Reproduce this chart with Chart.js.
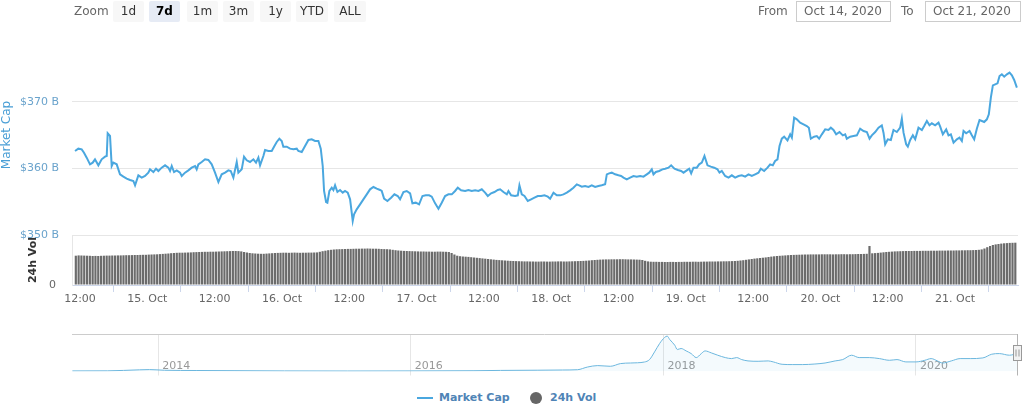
<!DOCTYPE html>
<html>
<head>
<meta charset="utf-8">
<script src="https://cdn.jsdelivr.net/npm/chart.js@4.4.0/dist/chart.umd.min.js"></script>
<style>
body { margin:0; background:#fff; font-family:"DejaVu Sans", sans-serif; }
#wrap { position:relative; width:1026px; height:411px; overflow:hidden; }
canvas { position:absolute; left:0; }
#main { top:0; }
#nav { top:325px; }
.lbl { position:absolute; top:1px; height:21px; line-height:21px; font-size:12px; color:#666; }
.btn { position:absolute; top:1px; height:21px; line-height:21px; font-size:12px; color:#333; background:#f7f7f7; text-align:center; border-radius:2px; }
.btn.on { background:#e6ebf5; font-weight:bold; color:#000; }
.inp { position:absolute; top:1px; height:19px; line-height:19px; border:1px solid #cccccc; font-size:12px; color:#666; padding-left:7px; }
.leg { position:absolute; top:391px; line-height:14px; font-size:11px; font-weight:bold; color:#4f84b6; }
</style>
</head>
<body>
<div id="wrap">
  <canvas id="main" width="1026" height="318"></canvas>
  <canvas id="nav" width="1026" height="57"></canvas>

  <div class="lbl" style="left:74px">Zoom</div>
  <div class="btn" style="left:113px;width:31px">1d</div>
  <div class="btn on" style="left:149px;width:31px">7d</div>
  <div class="btn" style="left:187px;width:31px">1m</div>
  <div class="btn" style="left:223px;width:31px">3m</div>
  <div class="btn" style="left:260px;width:31px">1y</div>
  <div class="btn" style="left:296px;width:32px">YTD</div>
  <div class="btn" style="left:334px;width:32px">ALL</div>

  <div class="lbl" style="left:758px">From</div>
  <div class="inp" style="left:796px;width:86px">Oct 14, 2020</div>
  <div class="lbl" style="left:901px">To</div>
  <div class="inp" style="left:925px;width:87px">Oct 21, 2020</div>

  <div style="position:absolute;left:417px;top:397px;width:16px;height:2px;background:#4aa7df"></div>
  <div class="leg" style="left:439px">Market Cap</div>
  <div style="position:absolute;left:530px;top:392px;width:12px;height:12px;border-radius:50%;background:#666"></div>
  <div class="leg" style="left:550px">24h Vol</div>
</div>
<script>
// hours counted from 14 Oct 2020 00:00, market cap in $ B
const capPoints = [
  [11.11,362.6],[11.70,362.95],[12.30,362.85],[12.71,362.35],[13.19,361.6],[13.78,360.6],[14.26,360.85],[14.67,361.35],
  [15.27,360.45],[15.86,361.35],[16.46,361.75],[16.76,361.85],[16.93,365.25],[17.35,364.85],[17.65,360.35],[17.94,360.85],
  [18.54,360.6],[19.13,359.1],[19.73,358.75],[20.32,358.45],[20.92,358.25],[21.51,358.1],[21.81,357.45],[22.40,358.95],
  [23.00,358.6],[23.59,358.85],[24.18,359.35],[24.48,359.85],[25.08,359.45],[25.55,359.95],[25.97,359.6],[26.56,360.1],
  [27.16,360.45],[27.75,360.1],[28.05,359.6],[28.35,360.35],[28.76,359.45],[29.24,359.7],[29.83,359.35],[30.13,358.85],
  [30.72,359.35],[31.32,359.7],[31.91,360.1],[32.51,360.35],[32.80,359.85],[33.10,360.6],[33.70,360.95],[34.29,361.35],
  [34.88,361.25],[35.48,360.6],[36.07,359.35],[36.67,357.95],[37.26,359.1],[37.86,359.35],[38.45,359.7],[38.87,359.6],
  [39.34,358.6],[39.94,360.95],[40.23,359.35],[40.83,359.85],[41.24,361.75],[41.72,361.2],[42.31,360.95],[42.91,361.35],
  [43.38,360.85],[43.80,361.6],[44.10,360.45],[44.69,361.85],[44.99,362.75],[45.58,362.6],[46.18,362.6],[46.59,363.25],
  [47.07,363.95],[47.54,364.45],[47.96,364.1],[48.25,363.25],[48.85,363.25],[49.45,362.95],[50.04,362.85],[50.64,362.95],
  [50.93,362.6],[51.53,362.45],[52.12,363.35],[52.72,364.25],[53.31,364.35],[53.90,364.1],[54.50,364.1],[54.92,362.95],
  [55.27,360.35],[55.51,356.6],[55.87,354.95],[56.10,354.85],[56.46,356.6],[56.88,357.1],[57.17,356.75],[57.47,357.45],
  [57.89,356.45],[58.36,356.75],[58.84,356.35],[59.25,356.6],[59.73,356.35],[60.15,355.35],[60.44,353.35],[60.62,352.1],
  [60.86,353.1],[61.33,353.85],[61.93,354.6],[62.52,355.35],[63.12,356.1],[63.71,356.85],[64.31,357.2],[64.90,356.95],
  [65.49,356.75],[65.79,356.6],[66.21,355.45],[66.80,355.1],
  [67.46,355.6],[68.05,356.1],[68.65,355.85],[69.06,355.35],[69.66,356.45],[70.25,356.6],[70.85,356.25],[71.26,354.75],
  [71.86,354.85],[72.45,354.6],[73.05,355.85],[73.64,355.95],[74.24,355.95],[74.71,355.75],[75.31,354.75],[75.90,353.95],
  [76.49,354.85],[77.09,355.85],[77.68,356.1],[78.28,356.1],[78.87,356.6],[79.35,357.1],[79.94,356.7],[80.66,356.6],
  [81.25,356.75],[81.84,356.6],[82.44,356.7],[83.03,356.6],[83.63,356.85],[84.22,356.35],[84.70,355.85],[85.29,356.25],
  [85.89,356.45],[86.48,356.75],[86.90,356.85],[87.49,356.45],[88.09,356.1],[88.38,356.6],[88.86,355.95],[89.57,355.85],
  [90.05,355.95],[90.34,357.45],[90.76,356.1],[91.24,355.85],[91.83,355.1],[92.42,355.35],[93.02,355.6],[93.61,355.85],
  [94.21,355.85],[94.80,355.95],[95.40,355.75],[95.81,355.45],[96.41,356.35],[97.00,355.95],[97.60,355.95],[98.19,356.1],
  [98.79,356.35],[99.38,356.7],[99.97,357.1],[100.57,357.6],[100.98,357.45],[101.46,357.25],[102.05,357.35],[102.65,357.2],
  [103.24,357.45],[103.84,357.2],[104.43,357.35],[105.02,357.45],[105.62,357.6],[105.92,359.1],[106.33,359.25],[106.81,359.35],
  [107.40,359.1],[108.00,358.95],[108.47,358.85],[108.89,358.6],[109.48,358.35],[110.08,358.6],[110.67,358.85],[111.27,358.75],
  [111.86,358.85],[112.46,358.75],[113.05,359.1],[113.47,359.35],[113.94,359.85],[114.24,359.1],[114.66,359.45],[115.25,359.6],
  [115.84,359.85],[116.32,359.95],[116.91,360.1],[117.39,360.45],[117.98,359.95],[118.58,359.75],[119.17,359.6],[119.59,359.35],
  [120.18,359.7],[120.60,359.95],[120.96,359.25],[121.37,360.1],[121.97,360.1],[122.38,360.6],[122.86,360.85],[123.33,361.85],
  [123.87,360.45],[124.46,360.25],[125.06,360.1],[125.65,359.85],[126.01,359.35],[126.42,359.6],[127.02,358.85],[127.61,358.6],
  [128.21,358.95],[128.80,358.6],[129.40,358.85],[129.99,358.95],[130.58,358.75],[131.18,359.1],[131.77,358.85],[132.37,359.1],
  [132.96,359.35],[133.38,359.95],[133.97,359.6],[134.57,360.1],[135.04,360.6],[135.52,360.45],[135.93,361.1],[136.35,361.35],
  [136.71,363.35],[137.12,364.45],[137.54,364.75],[138.13,364.2],[138.61,365.1],[138.91,364.6],[139.32,367.6],[139.80,367.35],
  [140.39,366.85],[140.99,366.6],[141.58,366.35],[141.94,366.1],[142.29,364.45],[142.89,364.75],[143.36,364.85],[143.78,364.45],
  [144.26,365.1],[144.85,365.85],[145.44,365.75],[145.86,366.1],[146.34,365.75],[146.81,365.1],[147.41,365.45],[148.00,364.95],
  [148.42,365.1],[148.71,364.45],[149.31,364.75],[149.90,364.85],[150.50,364.95],[151.09,365.95],[151.69,365.6],[152.28,365.45],
  [152.76,364.45],[153.17,364.95],[153.77,365.45],[154.36,366.1],[154.95,366.45],[155.25,365.35],[155.55,363.6],[156.02,364.35],
  [156.56,364.25],[157.03,365.75],[157.63,365.45],[158.22,366.1],[158.52,367.45],[158.82,365.35],[159.29,363.6],[159.59,363.25],
  [160.01,364.25],[160.48,364.95],[160.90,364.35],[161.49,366.1],[162.09,365.75],[162.50,366.35],[162.98,367.1],[163.45,366.45],
  [163.87,366.75],[164.46,366.45],[165.06,366.85],[165.36,366.25],[165.83,365.1],[166.43,365.85],[166.84,364.95],[167.26,365.1],
  [167.74,363.85],[168.33,364.35],[168.80,364.6],[169.22,364.1],[169.52,365.6],[169.99,365.25],[170.59,365.6],[171.00,364.95],
  [171.42,364.35],[171.89,365.95],[172.37,367.25],[172.79,367.1],[173.20,366.95],[173.68,367.35],[174.03,368.1],[174.39,370.6],
  [174.75,372.45],[175.16,372.6],[175.58,372.75],[175.94,373.85],[176.35,374.1],[176.77,373.75],[177.25,374.1],[177.72,374.35],
  [178.14,373.95],[178.55,373.25],[179.03,372.1]
];

// 24h volume in $ B, one bar every half hour from 11:15 on 14 Oct
const volStartHour = 11.25;
const volStepHours = 0.5;
const volValues = [
  29.3,29.6,29.5,29.4,29.3,29.2,29.0,29.1,29.0,29.2,29.3,29.4,
  29.4,29.5,29.5,29.6,29.6,29.7,29.8,29.8,29.9,30.0,30.0,30.1,
  30.2,30.2,30.4,30.5,30.6,30.7,30.9,31.1,31.3,31.5,31.8,32.0,
  32.2,32.3,32.3,32.4,32.5,32.6,32.8,32.9,33.0,33.1,33.2,33.2,
  33.3,33.3,33.4,33.5,33.6,33.7,33.8,33.9,34.0,34.0,33.9,33.6,
  33.0,32.5,32.0,31.7,31.5,31.3,31.2,31.2,31.4,31.6,31.8,32.0,
  32.1,32.2,32.3,32.3,32.2,32.3,32.4,32.3,32.2,32.3,32.3,32.4,
  32.4,32.5,32.6,33.2,33.8,34.3,34.8,35.2,35.5,35.7,35.8,35.9,
  36.0,36.1,36.1,36.2,36.3,36.3,36.4,36.4,36.5,36.4,36.3,36.3,
  36.2,36.0,35.9,35.8,35.6,35.2,34.8,34.5,34.3,34.1,34.0,33.9,
  33.8,33.7,33.6,33.5,33.5,33.4,33.4,33.3,33.3,33.4,33.4,33.3,
  33.2,33.0,32.0,30.5,29.3,28.8,28.5,28.3,28.1,27.8,27.5,27.2,
  26.9,26.6,26.3,26.0,25.7,25.4,25.1,24.9,24.7,24.5,24.3,24.1,
  24.0,23.9,23.8,23.7,23.6,23.6,23.5,23.5,23.4,23.4,23.5,23.5,
  23.4,23.4,23.5,23.5,23.6,23.6,23.5,23.5,23.6,23.7,23.8,23.9,
  24.0,24.1,24.3,24.5,24.8,25.0,25.2,25.4,25.5,25.6,25.6,25.7,
  25.7,25.7,25.8,25.8,25.7,25.6,25.6,25.5,25.4,25.3,25.0,24.2,
  23.6,23.3,23.2,23.2,23.1,23.1,23.0,23.0,23.1,23.1,23.0,23.1,
  23.1,23.2,23.2,23.2,23.3,23.3,23.2,23.3,23.4,23.4,23.5,23.5,
  23.5,23.6,23.6,23.7,23.7,23.8,23.9,24.0,24.2,24.5,24.8,25.2,
  25.6,26.0,26.4,26.7,27.0,27.3,27.6,28.0,28.4,28.7,29.0,29.2,
  29.4,29.6,29.8,30.0,30.1,30.2,30.3,30.4,30.5,30.5,30.6,30.6,
  30.6,30.6,30.7,30.7,30.7,30.7,30.6,30.7,30.7,30.8,30.8,30.7,
  30.8,30.8,30.9,31.0,31.0,31.1,31.2,39.0,31.7,31.9,32.1,32.4,
  32.7,33.0,33.2,33.4,33.6,33.7,33.8,33.9,34.0,34.0,34.0,34.1,
  34.1,34.1,34.2,34.2,34.2,34.3,34.3,34.3,34.4,34.4,34.4,34.5,
  34.5,34.5,34.6,34.6,34.7,34.7,34.8,34.8,34.9,35.0,35.2,35.6,
  36.5,37.8,39.0,40.0,40.6,41.0,41.4,41.7,41.9,42.1,42.2,42.3
];

const tickHours = [12,24,36,48,60,72,84,96,108,120,132,144,156,168];
const firstDay = 14;
const capTicks = [350,360,370];

// navigator: decimal year, total market cap in $ B
const navPoints = [
  [2013.32,14],[2013.6,16],[2013.85,40],[2013.93,46],[2014.05,30],[2014.3,24],[2014.6,20],[2015.0,14],[2015.5,12],[2016.0,14],
  [2016.5,19],[2016.71,26],[2017.0,31],[2017.2,36],[2017.32,43],[2017.40,108],[2017.48,142],[2017.58,125],[2017.66,190],[2017.74,204],
  [2017.85,228],[2017.89,286],[2017.93,470],[2017.97,672],[2018.01,818],[2018.03,850],[2018.05,768],[2018.09,631],[2018.11,528],[2018.14,552],
  [2018.18,494],[2018.22,430],[2018.26,334],[2018.30,430],[2018.33,494],[2018.38,446],[2018.43,391],[2018.49,334],[2018.54,310],[2018.58,334],
  [2018.62,286],[2018.67,254],[2018.75,245],[2018.83,254],[2018.87,230],[2018.94,173],[2019.02,166],[2019.10,166],[2019.20,180],[2019.28,204],
  [2019.36,254],[2019.42,286],[2019.49,391],[2019.55,334],[2019.63,334],[2019.71,310],[2019.79,269],[2019.85,286],[2019.92,230],[2020.00,230],
  [2020.07,269],[2020.12,310],[2020.17,254],[2020.21,204],[2020.28,254],[2020.35,310],[2020.43,310],[2020.53,326],[2020.60,415],[2020.66,430],
  [2020.74,391],[2020.80,430]
];
const navTickYears = [2014,2016,2018,2020];
const navSelEnd = 2020.80;

const FONT = '"DejaVu Sans", sans-serif';
Chart.defaults.font.family = FONT;

new Chart(document.getElementById('main'), {
  type: 'bar',
  data: {
    datasets: [
      {
        type: 'bar',
        label: '24h Vol',
        data: volValues.map((v, i) => ({x: volStartHour + i * volStepHours, y: v})),
        backgroundColor: '#6b6b6b',
        barPercentage: 1,
        categoryPercentage: 0.78,
        xAxisID: 'x',
        yAxisID: 'vol'
      },
      {
        type: 'line',
        label: 'Market Cap',
        data: capPoints.map(p => ({x: p[0], y: p[1]})),
        borderColor: '#4aa7df',
        borderWidth: 2,
        pointRadius: 0,
        tension: 0,
        xAxisID: 'x',
        yAxisID: 'cap'
      }
    ]
  },
  options: {
    responsive: false,
    animation: false,
    devicePixelRatio: 1,
    layout: {padding: {top: 35, right: 8, left: 0, bottom: 0}},
    plugins: {legend: {display: false}, tooltip: {enabled: false}},
    scales: {
      x: {
        type: 'linear', min: 10.57, max: 179.23, offset: false,
        afterBuildTicks: s => { s.ticks = tickHours.map(v => ({value: v})); },
        afterFit: s => { s.height = 33; },
        grid: {drawOnChartArea: false, drawTicks: true, tickLength: 7, color: '#ccd6eb'},
        border: {display: true, color: '#ccd6eb'},
        ticks: {
          autoSkip: false, maxRotation: 0, padding: 1, color: '#666', font: {size: 11},
          callback: v => v % 24 === 0 ? (firstDay + v / 24) + '. Oct' : '12:00'
        }
      },
      vol: {
        type: 'linear', position: 'left', stack: 'panes', stackWeight: 1, min: 0, max: 50,
        afterBuildTicks: s => { s.ticks = [{value: 0}]; },
        afterFit: s => { s.width = 72; },
        grid: {drawOnChartArea: false, drawTicks: false},
        border: {display: true, color: '#e6e6e6'},
        ticks: {padding: 16, color: '#666', font: {size: 11}, callback: v => String(v)},
        title: {display: true, text: '24h Vol', color: '#333', font: {size: 11, weight: 'bold'}, padding: {top: 27, bottom: 0}}
      },
      cap: {
        type: 'linear', position: 'left', stack: 'panes', stackWeight: 4, min: 350, max: 380,
        afterBuildTicks: s => { s.ticks = capTicks.map(v => ({value: v})); },
        afterFit: s => { s.width = 72; },
        grid: {color: '#e6e6e6', drawTicks: false},
        border: {display: false},
        ticks: {padding: 13, color: '#6aa3cc', font: {size: 11}, callback: v => '$' + v + ' B'},
        title: {display: true, text: 'Market Cap', color: '#4a9fd6', font: {size: 12}, padding: {top: 0, bottom: 0}}
      }
    }
  }
});

// navigator decorations: outline, year labels inside the plot, range handle
const navHandle = {
  id: 'navHandle',
  beforeDatasetsDraw(chart) {
    const {ctx, chartArea: a, scales: {x}} = chart;
    ctx.save();
    ctx.font = '11px ' + FONT;
    ctx.fillStyle = '#999999';
    ctx.textAlign = 'left';
    ctx.textBaseline = 'middle';
    navTickYears.forEach(yr => {
      ctx.fillText(String(yr), x.getPixelForValue(yr) + 4, a.bottom - 5.5);
    });
    ctx.restore();
  },
  afterDraw(chart) {
    const {ctx, chartArea: a} = chart;
    const px = Math.round(chart.scales.x.getPixelForValue(navSelEnd)) + 0.5;
    ctx.save();
    ctx.lineWidth = 1;
    ctx.strokeStyle = '#cccccc';
    ctx.beginPath();
    ctx.moveTo(a.left, a.top + 0.5);
    ctx.lineTo(a.right, a.top + 0.5);
    ctx.stroke();
    ctx.strokeStyle = '#b3b3b3';
    ctx.beginPath();
    ctx.moveTo(px, a.top);
    ctx.lineTo(px, a.bottom + 4);
    ctx.stroke();
    const hy = Math.round((a.top + a.bottom) / 2) - 7.5;
    ctx.fillStyle = '#f2f2f2';
    ctx.strokeStyle = '#999999';
    ctx.fillRect(px - 4, hy, 8, 15);
    ctx.strokeRect(px - 4, hy, 8, 15);
    ctx.beginPath();
    ctx.moveTo(px - 1.5, hy + 4); ctx.lineTo(px - 1.5, hy + 11);
    ctx.moveTo(px + 1.5, hy + 4); ctx.lineTo(px + 1.5, hy + 11);
    ctx.stroke();
    ctx.restore();
  }
};

new Chart(document.getElementById('nav'), {
  type: 'line',
  data: {
    datasets: [{
      data: navPoints.map(p => ({x: p[0], y: p[1]})),
      borderColor: '#6cb7de',
      borderWidth: 1,
      pointRadius: 0,
      cubicInterpolationMode: 'monotone',
      fill: 'origin',
      backgroundColor: 'rgba(74,167,223,0.06)'
    }]
  },
  options: {
    responsive: false,
    animation: false,
    devicePixelRatio: 1,
    layout: {padding: {top: 9, right: 9, left: 72, bottom: 0}},
    plugins: {legend: {display: false}, tooltip: {enabled: false}},
    scales: {
      x: {
        type: 'linear', min: 2013.317, max: 2020.80,
        afterBuildTicks: s => { s.ticks = navTickYears.map(v => ({value: v})); },
        afterFit: s => { s.height = 10.5; },
        grid: {color: '#e6e6e6', drawTicks: true, tickLength: 4},
        border: {display: false},
        ticks: {display: false}
      },
      y: {display: false, min: 0, max: 900}
    }
  },
  plugins: [navHandle]
});
</script>
</body>
</html>
